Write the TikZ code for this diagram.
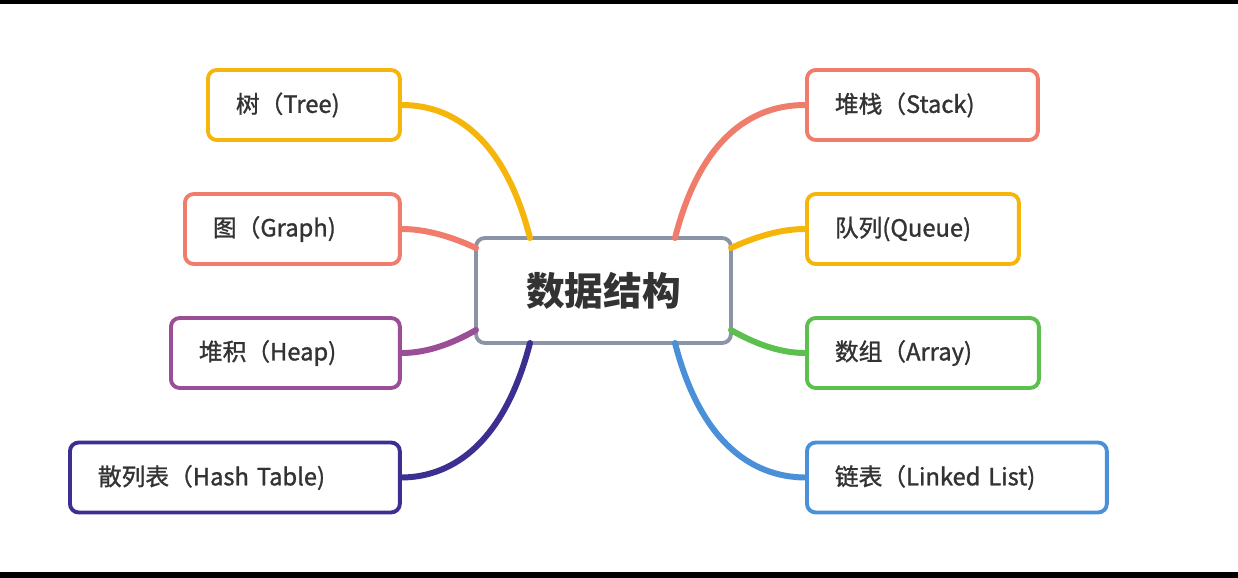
\documentclass[tikz,border=0pt]{standalone}
\usepackage{fontspec}
\setmainfont{Noto Sans CJK SC}
\definecolor{cOrange}{HTML}{F5B50A}
\definecolor{cSalmon}{HTML}{F07C6C}
\definecolor{cPurple}{HTML}{9B4E96}
\definecolor{cIndigo}{HTML}{3B3092}
\definecolor{cGreen}{HTML}{5CC04E}
\definecolor{cBlue}{HTML}{4A90D9}
\definecolor{cGray}{HTML}{8A94A6}
\definecolor{cText}{HTML}{333333}
\tikzset{
  leaf/.style={draw=#1,line width=2.2pt,rounded corners=5pt,fill=white,
    minimum height=1.4cm,inner xsep=0.56cm,anchor=west,align=left,
    font=\fontsize{13.5}{15}\selectfont\addfontfeature{FakeBold=1.2},text=cText},
  branch/.style={draw=#1,line width=3.4pt,line cap=round},
}
\begin{document}
\begin{tikzpicture}[x=0.02cm,y=-0.02cm]
\useasboundingbox (0,0) rectangle (1238,578);
\fill[black] (0,0) rectangle (1238,4);
\fill[black] (0,572) rectangle (1238,578);

\node[draw=cGray,line width=2.2pt,rounded corners=5pt,fill=white,minimum width=5.1cm,minimum height=2.1cm,
  font=\bfseries\fontsize{22}{26}\selectfont,text=cText] (root) at (603.5,290.5) {数据结构};

% left side
\node[leaf=cOrange,text width=2.72cm] (tree)  at (206,105)   {树（Tree)};
\node[leaf=cSalmon,text width=3.18cm] (graph) at (183,229)   {图（Graph)};
\node[leaf=cPurple,text width=3.46cm] (heap)  at (169,353)   {堆积（Heap)};
\node[leaf=cIndigo,text width=5.48cm] (hash)  at (68,477.5)  {散列表（Hash Table)};

% right side
\node[leaf=cSalmon,text width=3.50cm] (stack) at (805,105)   {堆栈（Stack)};
\node[leaf=cOrange,text width=3.12cm] (queue) at (805,229)   {队列(Queue)};
\node[leaf=cGreen,text width=3.52cm]  (array) at (805,353)   {数组（Array)};
\node[leaf=cBlue,text width=4.88cm]   (list)  at (805,477.5) {链表（Linked List)};

\coordinate (tl) at (530,238);
\coordinate (gl) at (476,248);
\coordinate (hl) at (476,330);
\coordinate (sl) at (530,343);
\coordinate (tr) at (675,238);
\coordinate (gr) at (731,248);
\coordinate (hr) at (731,330);
\coordinate (sr) at (675,343);

\draw[branch=cOrange] (tl) .. controls (505,140) and (455,105) .. (tree.east);
\draw[branch=cSalmon] (gl) .. controls (450,236) and (425,229) .. (graph.east);
\draw[branch=cPurple] (hl) .. controls (450,345) and (425,353) .. (heap.east);
\draw[branch=cIndigo] (sl) .. controls (505,440) and (455,477) .. (hash.east);
\draw[branch=cSalmon] (tr) .. controls (700,140) and (750,105) .. (stack.west);
\draw[branch=cOrange] (gr) .. controls (757,236) and (782,229) .. (queue.west);
\draw[branch=cGreen]  (hr) .. controls (757,345) and (782,353) .. (array.west);
\draw[branch=cBlue]   (sr) .. controls (700,440) and (750,477) .. (list.west);
\end{tikzpicture}
\end{document}
